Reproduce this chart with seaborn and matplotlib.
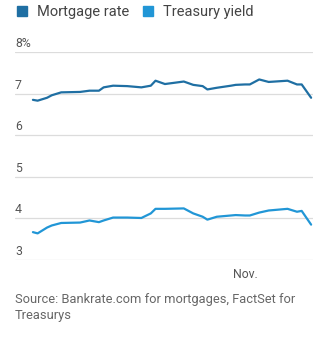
import matplotlib
matplotlib.use("Agg")
import matplotlib.pyplot as plt
from matplotlib.lines import Line2D
import pandas as pd
import seaborn as sns

# ---- data ----
day_offsets = [-45, -44, -42, -41, -39, -35, -33, -31, -30, -28, -25, -22, -20, -19, -17,
               -13, -11, -9, -8, -6, -3, -2, 0, 1, 3, 5, 9, 11, 12, 14]
mortgage_rate = [6.85, 6.83, 6.90, 6.96, 7.03, 7.04, 7.07, 7.07, 7.15, 7.19, 7.18, 7.15, 7.19, 7.31, 7.23,
                 7.29, 7.21, 7.18, 7.10, 7.14, 7.19, 7.21, 7.22, 7.22, 7.34, 7.28, 7.31, 7.22, 7.22, 6.90]
treasury_yield = [3.67, 3.64, 3.78, 3.83, 3.89, 3.90, 3.95, 3.91, 3.95, 4.02, 4.02, 4.01, 4.12, 4.23, 4.23,
                  4.24, 4.12, 4.04, 3.97, 4.04, 4.07, 4.08, 4.07, 4.07, 4.14, 4.19, 4.23, 4.16, 4.18, 3.85]
series_names = ["Mortgage rate", "Treasury yield"]
y_ticks = [3, 4, 5, 6, 7, 8]
y_tick_labels = ["3", "4", "5", "6", "7", "8%"]
x_tick_label = "Nov."
source_text = "Source: Bankrate.com for mortgages, FactSet for\nTreasurys"

base = pd.Timestamp("2024-11-01")
dates = [base + pd.Timedelta(days=d) for d in day_offsets]
df = pd.DataFrame({
    "date": dates * 2,
    "value": mortgage_rate + treasury_yield,
    "series": [series_names[0]] * len(dates) + [series_names[1]] * len(dates),
})

colors = {series_names[0]: "#1f6fa3", series_names[1]: "#2196d6"}

sns.set_theme(style="white")
plt.rcParams["font.family"] = ["Roboto", "DejaVu Sans"]

fig = plt.figure(figsize=(3.31, 3.40), dpi=100)
ax = fig.add_axes([15 / 331, 1 - 260 / 340, 298 / 331, 208 / 340])

for v in y_ticks:
    ax.axhline(v, color="#dcdcdc", linewidth=0.9, zorder=0)

sns.lineplot(data=df, x="date", y="value", hue="series", palette=colors,
             linewidth=1.6, ax=ax, legend=False, zorder=3)

ax.set_ylim(3, 8)
ax.set_xlim(base + pd.Timedelta(days=-48.8), base + pd.Timedelta(days=14.4))
ax.set_yticks(y_ticks)
ax.set_yticklabels([])
ax.tick_params(axis="y", length=0)
for s in ax.spines.values():
    s.set_visible(False)
ax.set_xlabel("")
ax.set_ylabel("")

ax.set_xticks([base])
ax.set_xticklabels([x_tick_label], color="#555555", fontsize=8.8)
ax.tick_params(axis="x", length=3, width=0.8, color="#555555", pad=3, direction="out")

trans = ax.get_yaxis_transform()
for v, lab in zip(y_ticks, y_tick_labels):
    ax.text(0.0, v + 0.05, lab, transform=trans, ha="left", va="bottom",
            fontsize=8.8, color="#555555")

handles = [Line2D([0], [0], marker="s", linestyle="none", markersize=7,
                  markerfacecolor=colors[n], markeredgecolor=colors[n]) for n in series_names]
fig.legend(handles, series_names, loc="upper left", bbox_to_anchor=(0.018, 1.01),
           ncol=2, frameon=False, fontsize=10.5, handletextpad=0.55, columnspacing=0.75,
           labelcolor="#444444", borderaxespad=0.2, handlelength=1.0)

fig.text(15 / 331, 1 - 293 / 340, source_text, ha="left", va="top",
         fontsize=9.3, color="#666666", linespacing=1.3)

fig.savefig("out.png", dpi=100)
